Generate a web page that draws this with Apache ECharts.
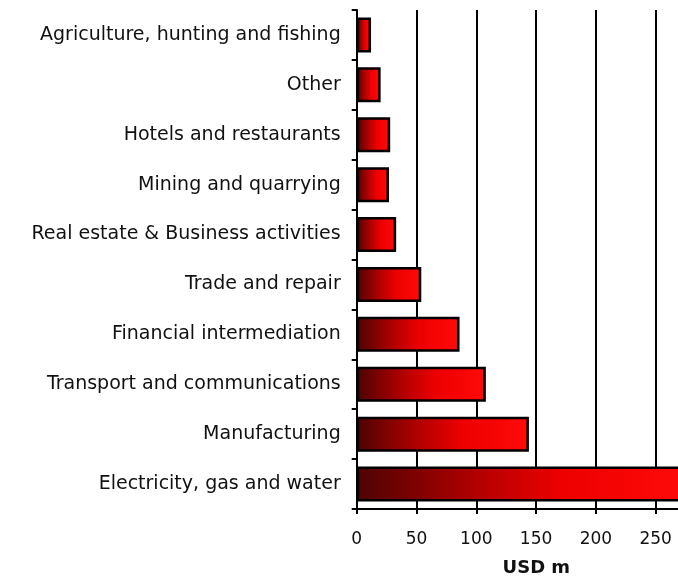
<!DOCTYPE html>
<html>
<head>
<meta charset="utf-8">
<script src="https://cdn.jsdelivr.net/npm/echarts@6/dist/echarts.min.js"></script>
<style>
  html, body { margin: 0; padding: 0; background: #ffffff; overflow: hidden; }
  /* the plot runs past the right edge of the window, so the longest bar is cut off there */
  #chart { width: 700px; height: 583px; }
</style>
</head>
<body>
<div id="chart"></div>
<script>
// Sectors, listed top to bottom
const sectors = [
  'Agriculture, hunting and fishing',
  'Other',
  'Hotels and restaurants',
  'Mining and quarrying',
  'Real estate & Business activities',
  'Trade and repair',
  'Financial intermediation',
  'Transport and communications',
  'Manufacturing',
  'Electricity, gas and water'
];
// Investment per sector, USD m
const valuesUsdM = [12, 20, 28, 27, 33, 54, 86, 108, 144, 290];
const axisTitle = 'USD m';

const chart = echarts.init(document.getElementById('chart'));

const barFill = new echarts.graphic.LinearGradient(0, 0, 1, 0, [
  { offset: 0, color: '#4d0303' },
  { offset: 0.35, color: '#b00000' },
  { offset: 0.62, color: '#ee0000' },
  { offset: 1, color: '#ff0a0a' }
]);

chart.setOption({
  backgroundColor: '#ffffff',
  animation: false,
  grid: { left: 356.7, right: 10, top: 10, bottom: 74, containLabel: false },
  xAxis: {
    type: 'value',
    min: 0,
    max: 278.7,
    interval: 50,
    name: axisTitle,
    nameLocation: 'middle',
    nameGap: 50,
    nameTextStyle: {
      fontFamily: 'DejaVu Sans',
      fontWeight: 'bold',
      fontSize: 18,
      color: '#111',
      padding: [0, 0, 0, 26]
    },
    axisLine: { show: true, lineStyle: { color: '#000', width: 2 } },
    axisTick: { show: true, length: 5, lineStyle: { color: '#000', width: 2 } },
    axisLabel: {
      margin: 22,
      fontFamily: 'DejaVu Sans',
      fontSize: 17,
      color: '#111',
      formatter: v => (v % 50 === 0 ? String(v) : '')
    },
    splitLine: { show: true, lineStyle: { color: '#000', width: 2 } }
  },
  yAxis: {
    type: 'category',
    data: sectors,
    inverse: true,
    axisLine: { show: true, lineStyle: { color: '#000', width: 2 } },
    axisTick: { show: true, length: 5, lineStyle: { color: '#000', width: 2 } },
    axisLabel: {
      margin: 16,
      fontFamily: 'DejaVu Sans',
      fontSize: 19,
      color: '#111',
      padding: [3, 0, 0, 0]
    },
    splitLine: { show: false }
  },
  series: [{
    type: 'bar',
    data: valuesUsdM,
    barWidth: 35,
    clip: true,
    itemStyle: {
      color: barFill,
      borderColor: '#000',
      borderWidth: 2.5
    }
  }]
});
</script>
</body>
</html>
